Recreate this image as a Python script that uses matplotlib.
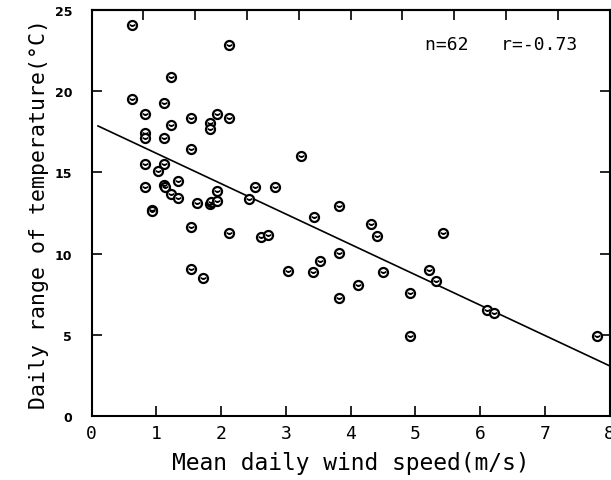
import numpy as np
import matplotlib.pyplot as plt

# mean daily wind speed (m/s) and daily range of temperature (deg C)
wind_speed = [
    0.62, 2.12, 1.23, 0.63, 1.12, 0.83, 1.94, 1.53, 2.12, 1.23,
    1.83, 1.83, 0.83, 0.83, 1.12, 1.53, 0.83, 1.12, 1.03, 1.33,
    0.83, 1.12, 1.14, 1.23, 1.33, 1.63, 1.83, 1.85, 1.94, 1.94,
    0.93, 0.93, 1.53, 2.12, 1.53, 1.72, 3.23, 2.53, 2.83, 2.43,
    3.43, 3.82, 4.31, 4.41, 2.62, 2.73, 3.82, 3.52, 3.03, 3.42,
    4.50, 4.12, 3.82, 4.92, 5.42, 5.21, 5.32, 4.92, 6.10, 6.22,
    7.81,
]
temp_range = [
    24.1, 22.85, 20.9, 19.5, 19.3, 18.6, 18.6, 18.35, 18.35, 17.95,
    18.05, 17.65, 17.45, 17.1, 17.1, 16.45, 15.55, 15.55, 15.1, 14.45,
    14.1, 14.2, 14.1, 13.7, 13.4, 13.1, 13.05, 13.15, 13.25, 13.85,
    12.7, 12.6, 11.65, 11.3, 9.05, 8.5, 16.0, 14.1, 14.1, 13.35,
    12.25, 12.95, 11.8, 11.1, 11.05, 11.15, 10.05, 9.55, 8.95, 8.85,
    8.87, 8.05, 7.25, 7.55, 11.27, 9.0, 8.33, 4.95, 6.5, 6.36,
    4.95,
]

# regression line as drawn
line_intercept = 18.05
line_slope = -1.87
line_x = [0.1, 8.0]

x_ticks = [0, 1, 2, 3, 4, 5, 6, 7, 8]
y_ticks = [0, 5, 10, 15, 20, 25]
top_ticks = [0.8, 1.6, 2.4, 3.2, 4.0, 4.8, 5.6, 6.4, 7.2]

fig = plt.figure(figsize=(6.11, 4.81), dpi=100)
ax = fig.add_axes([0.1498, 0.133, 0.848, 0.844])

lx = np.array(line_x)
ax.plot(lx, line_intercept + line_slope * lx, color="black", linewidth=1.2, zorder=2)
ax.plot(wind_speed, temp_range, linestyle="none", marker="o", markersize=6.5,
        markerfacecolor="white", markeredgecolor="black", markeredgewidth=1.6, zorder=3)
ax.plot(wind_speed, temp_range, linestyle="none", marker=r"$\smile$", markersize=3.5,
        color="black", zorder=4)

ax.set_xlim(0, 8)
ax.set_ylim(0, 25)
ax.set_xticks(x_ticks)
ax.set_yticks(y_ticks)
ax.set_xticklabels([str(t) for t in x_ticks], family="DejaVu Sans Mono", fontsize=13)
ax.set_yticklabels([str(t) for t in y_ticks], family="DejaVu Sans", fontsize=9,
                   fontweight="bold")
ax.tick_params(axis="both", direction="in", length=7, width=1.2, right=True)
ax.tick_params(axis="x", pad=6)
ax.tick_params(axis="y", pad=14)

top = ax.secondary_xaxis("top")
top.set_xticks(top_ticks)
top.tick_params(direction="in", length=7, width=1.2, labeltop=False)

for s in ax.spines.values():
    s.set_linewidth(1.5)
top.spines["top"].set_linewidth(1.5)

ax.set_xlabel("Mean daily wind speed(m/s)", family="DejaVu Sans Mono", fontsize=16.5,
              labelpad=6)
ax.set_ylabel("Daily range of temperature(°C)", family="DejaVu Sans Mono", fontsize=15.5,
              labelpad=4)

ax.text(5.15, 22.9, "n=62   r=-0.73", family="DejaVu Sans Mono", fontsize=13,
        va="center", ha="left")

fig.savefig("out.png", dpi=100)
